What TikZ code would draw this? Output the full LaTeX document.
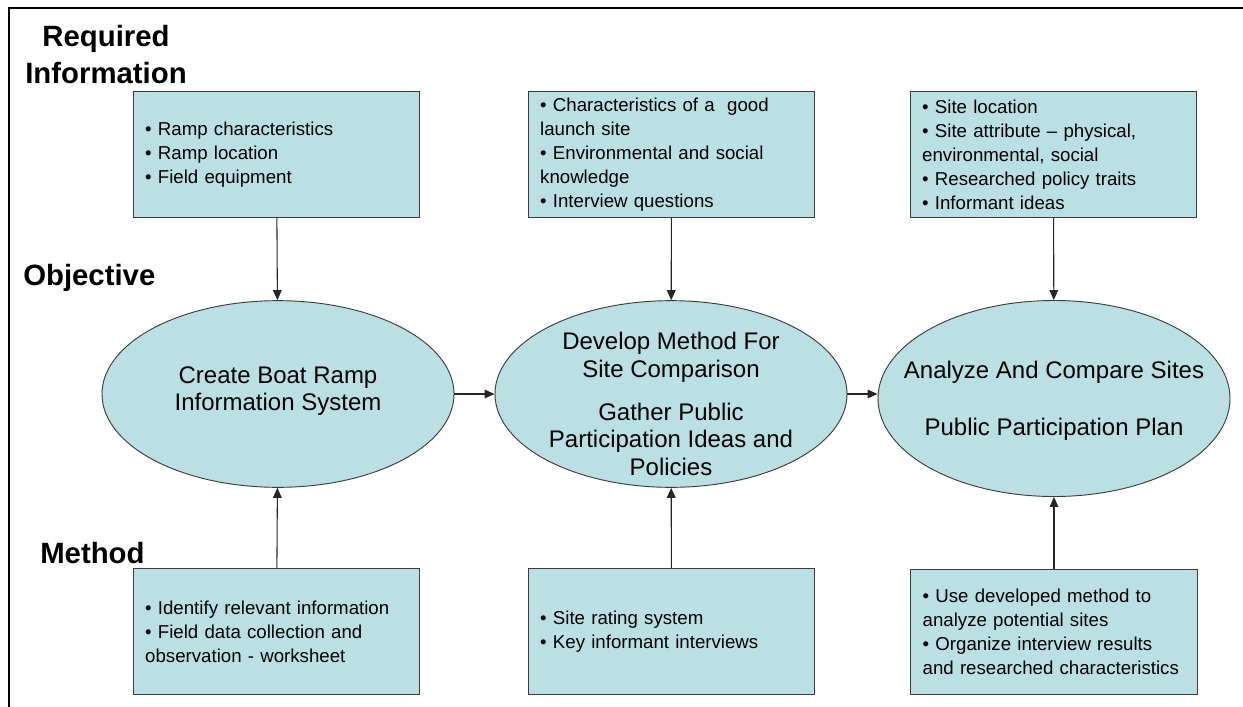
\documentclass[tikz,border=0pt]{standalone}
\usepackage{fontspec}
\setmainfont{Liberation Sans}
\usetikzlibrary{arrows.meta,shapes.geometric}

\definecolor{boxfill}{RGB}{186,224,227}
\definecolor{boxline}{RGB}{60,60,60}

\tikzset{
  infobox/.style={draw=boxline, line width=0.8pt, fill=boxfill,
    minimum height=94pt, text width=197pt, inner xsep=9pt, align=left,
    font=\fontsize{14}{18}\selectfont},
  goal/.style={ellipse, draw=boxline, line width=0.7pt, fill=boxfill,
    minimum width=264pt, minimum height=140pt, inner sep=0pt},
  goaltext/.style={inner sep=0pt, align=center, font=\fontsize{18}{20.6}\selectfont},
  heading/.style={inner sep=0pt, align=center, font=\fontsize{22}{27.75}\selectfont\bfseries},
  link/.style={-{Triangle[length=7.5pt,width=6.5pt]}, line width=0.8pt, black!85}
}

\begin{document}
\begin{tikzpicture}[x=0.75pt, y=-0.75pt]
        \useasboundingbox (0, 0) rectangle (1243, 707);
        \draw[line width=2.1pt, line cap=rect] (1243, 8) to (9, 8) to (9, 707);

        % row headings
        \node[heading, anchor=north] (reqhead) at (106, 25) {Required\\Information};
        \node[heading, anchor=north west] (objhead) at (23, 264) {Objective};
        \node[heading, anchor=north west] (methhead) at (40, 542) {Method};

        % required information
        \node[infobox] (info1) at (276.5, 154.5) {• Ramp characteristics\\• Ramp location\\• Field equipment};
        \node[infobox] (info2) at (671.5, 154.5) {• Characteristics of a \ good\\launch site\\• Environmental and social\\knowledge\\• Interview questions};
        \node[infobox] (info3) at (1053.5, 154.5) {• Site location\\• Site attribute – physical,\\environmental, social\\• Researched policy traits\\• Informant ideas};

        % objectives
        \node[goal] (goal1) at (278, 394) {};
        \node[goal] (goal2) at (671, 394) {};
        \node[goal, minimum height=147pt] (goal3) at (1054, 398.5) {};
        \node[goaltext] (goal1text) at (278, 391) {Create Boat Ramp\\Information System};
        \node[goaltext] (goal2text) at (671, 404) {Develop Method For\\Site Comparison\\[11.5pt]Gather Public\\Participation Ideas and\\Policies};
        \node[goaltext] (goal3text) at (1054, 401) {Analyze And Compare Sites\\[22pt]Public Participation Plan};

        % methods
        \node[infobox] (meth1) at (276.5, 631.5) {• Identify relevant information\\• Field data collection and\\observation - worksheet};
        \node[infobox] (meth2) at (671.5, 631.5) {• Site rating system\\• Key informant interviews};
        \node[infobox] (meth3) at (1054, 632) {• Use developed method to\\analyze potential sites\\• Organize interview results\\and researched characteristics};

        \draw[link] (info1) to (goal1);
        \draw[link] (info2) to (goal2);
        \draw[link] (info3) to (goal3);

        \draw[link] (meth1) to (goal1);
        \draw[link] (meth2) to (goal2);
        \draw[link] (meth3) to (goal3);

        \draw[link] (goal1) to (goal2);
        \draw[link] (goal2.east) to (goal2.east -| goal3.west);
\end{tikzpicture}
\end{document}
